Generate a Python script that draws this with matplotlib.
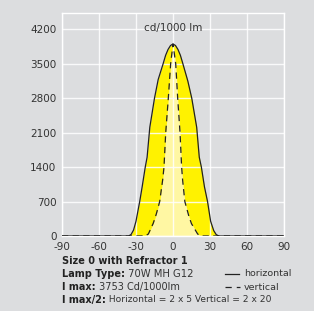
import matplotlib
matplotlib.use("Agg")
import matplotlib.pyplot as plt

plt.rcParams["axes.unicode_minus"] = False

# photometric curve, cd/1000 lm
horiz_angle = [-90, -36, -34, -32, -30, -27, -25, -22.5, -21, -18.8, -15, -12, -8, -6, -4, -2, 0,
               2, 4, 6, 8, 12, 15.2, 19.2, 21.3, 23, 25.5, 28, 30.5, 33, 35, 37, 90]
horiz_value = [0, 0, 30, 120, 300, 700, 1000, 1400, 1600, 2210, 2800, 3180, 3500, 3670, 3790, 3870, 3900,
               3870, 3790, 3670, 3500, 3150, 2800, 2210, 1600, 1400, 1000, 700, 300, 110, 30, 0, 0]

vert_angle = [-90, -23, -20, -16, -13.5, -10.8, -8.4, -7.3, -5.9, -3.8, -1.9, 0,
              2.2, 3.8, 5.7, 7.0, 7.8, 9.6, 13, 15, 20, 23, 90]
vert_value = [0, 0, 40, 260, 450, 700, 1136, 1400, 2100, 2800, 3500, 3900,
              3500, 2800, 2100, 1400, 1136, 700, 390, 250, 40, 0, 0]

x_ticks = [-90, -60, -30, 0, 30, 60, 90]
y_ticks = [0, 700, 1400, 2100, 2800, 3500, 4200]

BG = "#dcdddf"
YELLOW = "#fff200"
LIGHT = "#fff7a3"
TXT = "#333333"

fig = plt.figure(figsize=(3.14, 3.11), dpi=100, facecolor=BG)
ax = fig.add_axes([62 / 314, 75 / 311, 222 / 314, 223 / 311], facecolor=BG)

ax.fill_between(horiz_angle, 0, horiz_value, color=YELLOW, lw=0, zorder=1)
ax.fill_between(vert_angle, 0, vert_value, color=LIGHT, lw=0, zorder=2)
ax.plot(horiz_angle, horiz_value, color="#222222", lw=0.9, zorder=4)
ax.plot(vert_angle, vert_value, color="#222222", lw=0.9, ls=(0, (5, 3.5)), zorder=4)

ax.set_xlim(-90, 90)
ax.set_ylim(0, 4530)
ax.set_xticks(x_ticks)
ax.set_yticks(y_ticks)
ax.grid(True, color="white", lw=1.0, alpha=0.85, zorder=3)
ax.set_axisbelow(False)
for s in ax.spines.values():
    s.set_color("white")
    s.set_linewidth(1.0)
ax.tick_params(length=0, labelsize=7.5, labelcolor=TXT, pad=4)

ax.text(0, 4225, "cd/1000 lm", ha="center", va="center", fontsize=7.5, color=TXT)

# info block below the chart
fig.canvas.draw()
renderer = fig.canvas.get_renderer()
lines = [("Size 0 with Refractor 1", ""),
         ("Lamp Type:", " 70W MH G12"),
         ("I max:", " 3753 Cd/1000lm"),
         ("I max/2:", " Horizontal = 2 x 5 Vertical = 2 x 20")]
rest_sizes = [7, 7.2, 7, 6.6]
ys = [261.5, 274, 287, 300]
W, H = 314, 311
for (bold, rest), ypx, rs in zip(lines, ys, rest_sizes):
    t = fig.text(62 / W, 1 - ypx / H, bold, fontsize=7, fontweight="bold",
                 color="#222222", va="center", ha="left")
    if rest:
        bb = t.get_window_extent(renderer)
        fig.text(bb.x1 / W, 1 - ypx / H, rest, fontsize=rs,
                 color=TXT, va="center", ha="left")

# small legend
fig.add_artist(plt.Line2D([225 / W, 239 / W], [1 - 274 / H] * 2, color="#222222", lw=0.9))
fig.add_artist(plt.Line2D([225 / W, 240 / W], [1 - 287 / H] * 2, color="#222222", lw=0.9,
                          ls=(0, (5, 4))))
fig.text(244 / W, 1 - 274 / H, "horizontal", fontsize=6.8, color=TXT, va="center")
fig.text(244 / W, 1 - 287 / H, "vertical", fontsize=6.8, color=TXT, va="center")

fig.savefig("out.png", dpi=100, facecolor=BG)
